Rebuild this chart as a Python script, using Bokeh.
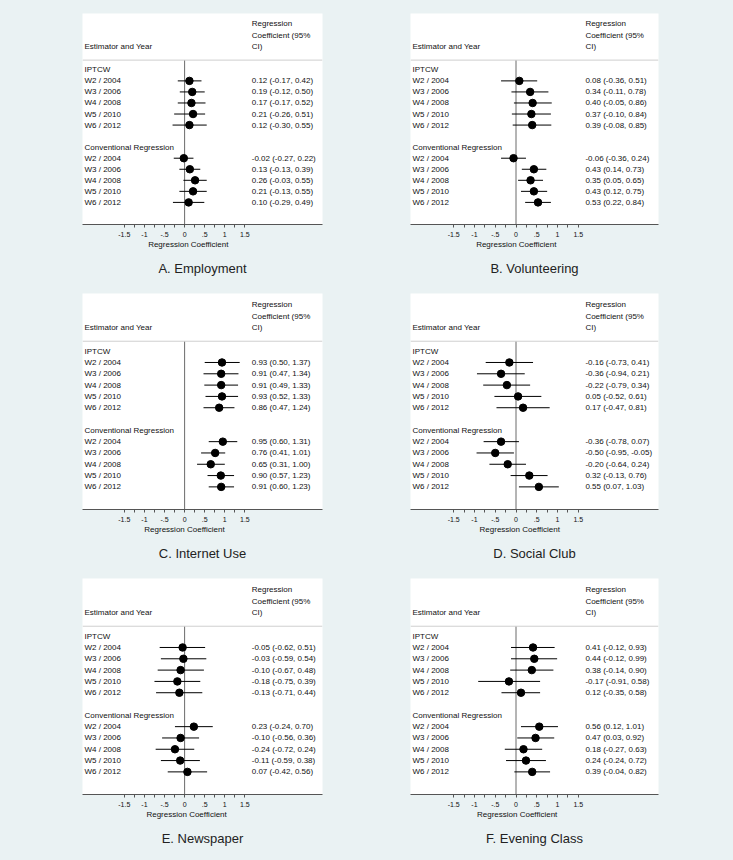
from bokeh.plotting import figure
from bokeh.models import ColumnDataSource, Range1d, FixedTicker, Span, Title
from bokeh.layouts import gridplot
from bokeh.core.properties import value
from bokeh.embed import file_html
from bokeh.resources import INLINE

# ---------------- data ----------------
waves = ["W2 / 2004", "W3 / 2006", "W4 / 2008", "W5 / 2010", "W6 / 2012"]
groups = ["IPTCW", "Conventional Regression"]
tick_values = [-1.5, -1, -0.5, 0, 0.5, 1, 1.5]
tick_labels = ["-1.5", "-1", "-.5", "0", ".5", "1", "1.5"]
minor_tick_values = [-1.25, -0.75, -0.25, 0.25, 0.75, 1.25]
panel_titles = ["A. Employment", "B. Volunteering", "C. Internet Use",
                "D. Social Club", "E. Newspaper", "F. Evening Class"]

# (coefficient, lower 95% CI, upper 95% CI) per wave
employment_iptcw = [(0.12, -0.17, 0.42), (0.19, -0.12, 0.50), (0.17, -0.17, 0.52),
                    (0.21, -0.26, 0.51), (0.12, -0.30, 0.55)]
employment_conv = [(-0.02, -0.27, 0.22), (0.13, -0.13, 0.39), (0.26, -0.03, 0.55),
                   (0.21, -0.13, 0.55), (0.10, -0.29, 0.49)]
volunteering_iptcw = [(0.08, -0.36, 0.51), (0.34, -0.11, 0.78), (0.40, -0.05, 0.86),
                      (0.37, -0.10, 0.84), (0.39, -0.08, 0.85)]
volunteering_conv = [(-0.06, -0.36, 0.24), (0.43, 0.14, 0.73), (0.35, 0.05, 0.65),
                     (0.43, 0.12, 0.75), (0.53, 0.22, 0.84)]
internet_iptcw = [(0.93, 0.50, 1.37), (0.91, 0.47, 1.34), (0.91, 0.49, 1.33),
                  (0.93, 0.52, 1.33), (0.86, 0.47, 1.24)]
internet_conv = [(0.95, 0.60, 1.31), (0.76, 0.41, 1.01), (0.65, 0.31, 1.00),
                 (0.90, 0.57, 1.23), (0.91, 0.60, 1.23)]
social_iptcw = [(-0.16, -0.73, 0.41), (-0.36, -0.94, 0.21), (-0.22, -0.79, 0.34),
                (0.05, -0.52, 0.61), (0.17, -0.47, 0.81)]
social_conv = [(-0.36, -0.78, 0.07), (-0.50, -0.95, -0.05), (-0.20, -0.64, 0.24),
               (0.32, -0.13, 0.76), (0.55, 0.07, 1.03)]
newspaper_iptcw = [(-0.05, -0.62, 0.51), (-0.03, -0.59, 0.54), (-0.10, -0.67, 0.48),
                   (-0.18, -0.75, 0.39), (-0.13, -0.71, 0.44)]
newspaper_conv = [(0.23, -0.24, 0.70), (-0.10, -0.56, 0.36), (-0.24, -0.72, 0.24),
                  (-0.11, -0.59, 0.38), (0.07, -0.42, 0.56)]
evening_iptcw = [(0.41, -0.12, 0.93), (0.44, -0.12, 0.99), (0.38, -0.14, 0.90),
                 (-0.17, -0.91, 0.58), (0.12, -0.35, 0.58)]
evening_conv = [(0.56, 0.12, 1.01), (0.47, 0.03, 0.92), (0.18, -0.27, 0.63),
                (0.24, -0.24, 0.72), (0.39, -0.04, 0.82)]

panel_data = [(employment_iptcw, employment_conv), (volunteering_iptcw, volunteering_conv),
              (internet_iptcw, internet_conv), (social_iptcw, social_conv),
              (newspaper_iptcw, newspaper_conv), (evening_iptcw, evening_conv)]

# ---------------- layout / style ----------------
BG = "#eaf2f3"
FONT = "Liberation Sans"
TXT = "#111111"
XS, XE = -2.54, 3.43
YB, YT = 14.0, -5.1
RIGHT_X = 1.67
AXLAB_HALF_W = 40.3
# (width, height, left, right, top, bottom) per panel
geom = [(366, 283, 76, 41, 13, 54), (367, 283, 44, 74, 12, 54),
        (366, 285, 82, 44, 10, 59), (367, 285, 37, 73, 9, 58),
        (366, 292, 77, 44, 10, 64), (367, 292, 41, 75, 8, 66)]


def fmt(v):
    return f"{v:.2f}"


def make_panel(title, ipt, conv, g):
    w, h, bl, br, bt, bb = g
    fw = w - bl - br
    p = figure(width=w, height=h, x_range=Range1d(XS, XE), y_range=Range1d(YB, YT),
               output_backend="svg", toolbar_location=None, tools="",
               min_border_left=bl, min_border_right=br, min_border_top=bt,
               min_border_bottom=bb, y_axis_location=None)
    p.background_fill_color = "white"
    p.border_fill_color = BG
    p.outline_line_color = None
    p.xgrid.visible = False
    p.ygrid.visible = False

    rows = [1, 2, 3, 4, 5, 8, 9, 10, 11, 12]
    vals = list(ipt) + list(conv)
    src = ColumnDataSource(dict(
        y=rows,
        coef=[v[0] for v in vals],
        lo=[v[1] for v in vals],
        hi=[v[2] for v in vals],
        txt=[f"{fmt(c)} ({fmt(l)}, {fmt(u)})" for c, l, u in vals],
        rx=[RIGHT_X] * len(rows),
    ))

    p.add_layout(Span(location=-0.88, dimension="width", line_color="#cfcfcf", line_width=1))
    p.segment(x0=[0], y0=[-0.88], x1=[0], y1=[YB], line_color="#6a6a6a", line_width=1)
    p.segment(x0="lo", y0="y", x1="hi", y1="y", source=src, line_color="black", line_width=1)
    p.scatter(x="coef", y="y", source=src, size=7.5, fill_color="black", line_color="black")

    left_txt = ["Estimator and Year", groups[0]] + waves + [groups[1]] + waves
    left_y = [-2.12, 0, 1, 2, 3, 4, 5, 7, 8, 9, 10, 11, 12]
    lsrc = ColumnDataSource(dict(x=[XS] * len(left_txt), y=left_y, t=left_txt))
    p.text(x="x", y="y", text="t", source=lsrc, x_offset=2, text_font=value(FONT),
           text_font_size=value("8px"), text_baseline="middle", text_align="left",
           text_color=TXT)

    hdr = ColumnDataSource(dict(x=[RIGHT_X] * 3, y=[-4.15, -3.09, -2.12],
                                t=["Regression", "Coefficient (95%", "CI)"]))
    p.text(x="x", y="y", text="t", source=hdr, text_font=value(FONT),
           text_font_size=value("8px"), text_baseline="middle", text_align="left",
           text_color=TXT)
    p.text(x="rx", y="y", text="txt", source=src, text_font=value(FONT),
           text_font_size=value("8px"), text_baseline="middle", text_align="left",
           text_color=TXT)

    ax = p.xaxis[0]
    ax.ticker = FixedTicker(ticks=tick_values, minor_ticks=minor_tick_values)
    ax.major_label_overrides = {v: l for v, l in zip(tick_values, tick_labels)}
    ax.axis_line_color = "#555555"
    ax.major_tick_line_color = "#555555"
    ax.minor_tick_line_color = "#555555"
    ax.major_tick_in = 0
    ax.major_tick_out = 3
    ax.minor_tick_in = 0
    ax.minor_tick_out = 3
    ax.major_label_standoff = 4
    ax.major_label_text_font = FONT
    ax.major_label_text_font_size = "7px"
    ax.major_label_text_color = TXT

    zero_px = -XS / (XE - XS) * fw
    p.add_layout(Title(text="Regression Coefficient", align="left", vertical_align="top",
                       offset=zero_px - AXLAB_HALF_W, standoff=0,
                       text_font=FONT, text_font_size="8px", text_font_style="normal",
                       text_color=TXT), "below")
    p.add_layout(Title(text=title, align="center", standoff=16,
                       text_font=FONT, text_font_size="13px", text_font_style="normal",
                       text_color="#222222"), "below")
    return p


panels = [make_panel(t, d[0], d[1], g) for t, d, g in zip(panel_titles, panel_data, geom)]
grid = gridplot([[panels[0], panels[1]], [panels[2], panels[3]], [panels[4], panels[5]]],
                toolbar_location=None)
grid.styles = {"background-color": BG}

open("out.html", "w").write(file_html(grid, INLINE))
